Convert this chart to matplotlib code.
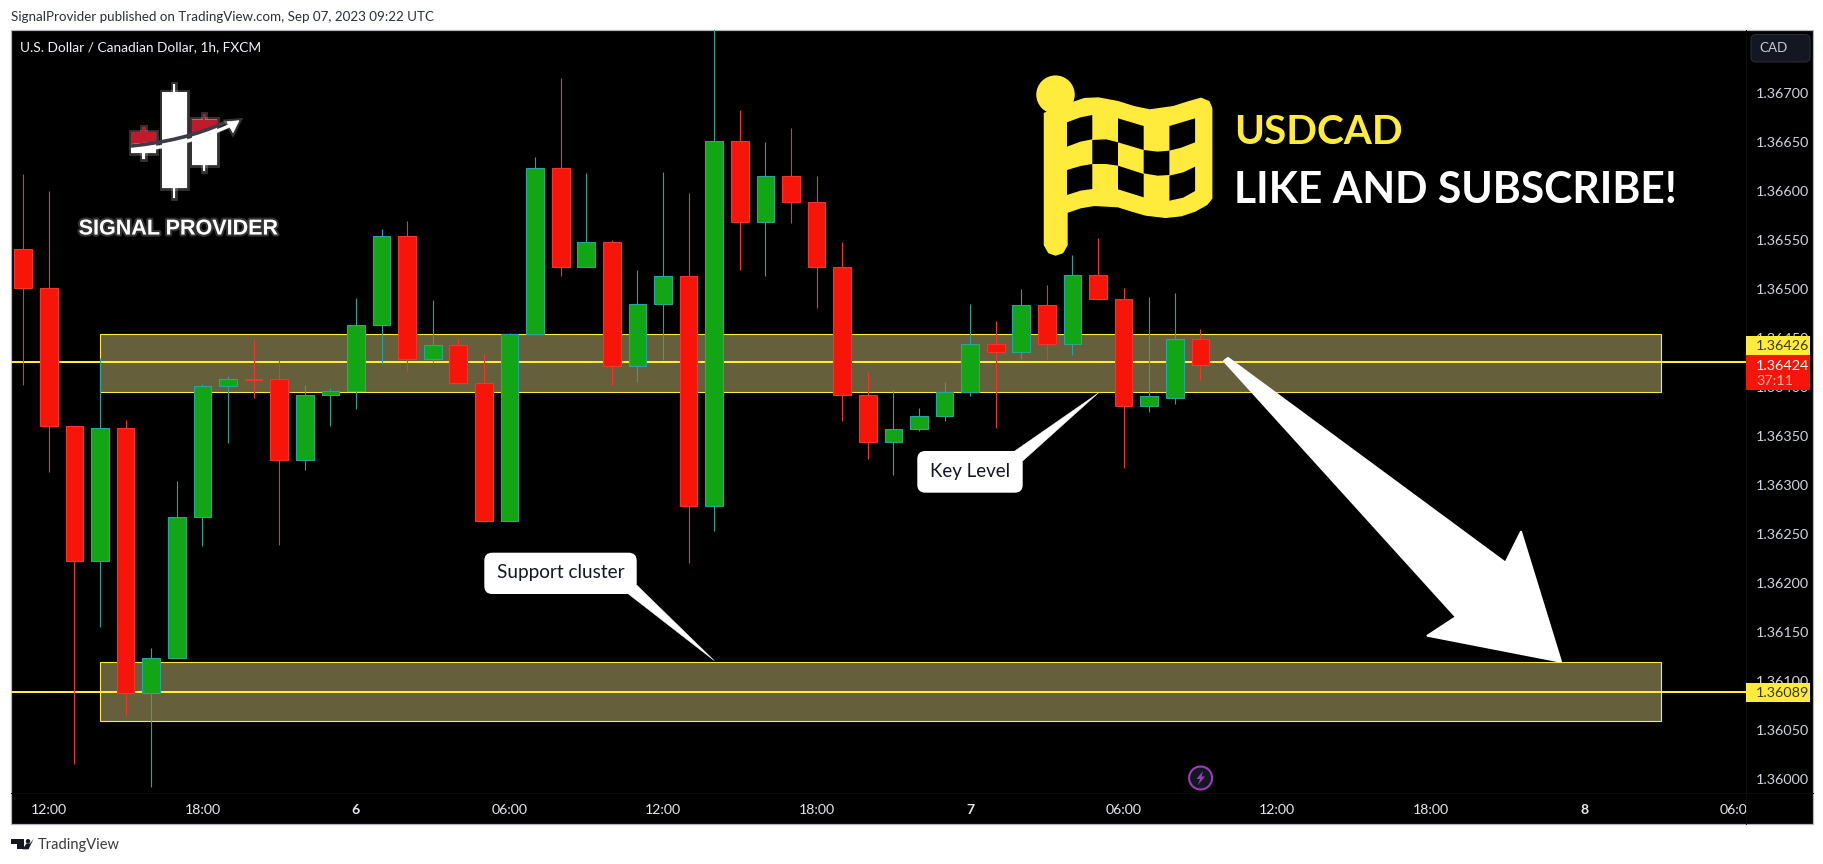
import matplotlib
matplotlib.use("Agg")
import matplotlib.pyplot as plt
import matplotlib.patheffects as pe
from matplotlib.patches import Rectangle, Polygon, FancyBboxPatch, Ellipse, PathPatch
from matplotlib.path import Path
from matplotlib.transforms import Bbox

# ---------- data (USD/CAD hourly candles) ----------
opens = [1.36541, 1.36501, 1.36360, 1.36223, 1.36358, 1.36088, 1.36124, 1.36268, 1.36401, 1.36408,
         1.36408, 1.36326, 1.36392, 1.36396, 1.36463, 1.36554, 1.36429, 1.36443, 1.36404, 1.36263,
         1.36454, 1.36624, 1.36523, 1.36548, 1.36422, 1.36485, 1.36513, 1.36279, 1.36651, 1.36569,
         1.36616, 1.36589, 1.36523, 1.36392, 1.36344, 1.36357, 1.36371, 1.36395, 1.36444, 1.36436,
         1.36484, 1.36444, 1.36515, 1.36490, 1.36381, 1.36389, 1.36449]
highs = [1.36618, 1.36600, 1.36360, 1.36430, 1.36367, 1.36134, 1.36304, 1.36403, 1.36411, 1.36448,
         1.36428, 1.36402, 1.36399, 1.36491, 1.36561, 1.36570, 1.36489, 1.36450, 1.36434, 1.36455,
         1.36635, 1.36716, 1.36619, 1.36550, 1.36520, 1.36620, 1.36598, 1.36800, 1.36683, 1.36650,
         1.36664, 1.36616, 1.36548, 1.36416, 1.36397, 1.36379, 1.36405, 1.36485, 1.36468, 1.36500,
         1.36504, 1.36535, 1.36552, 1.36501, 1.36492, 1.36496, 1.36459]
lows = [1.36402, 1.36313, 1.36015, 1.36155, 1.36066, 1.35992, 1.36124, 1.36238, 1.36343, 1.36389,
        1.36239, 1.36316, 1.36360, 1.36378, 1.36424, 1.36417, 1.36426, 1.36404, 1.36263, 1.36263,
        1.36454, 1.36513, 1.36523, 1.36402, 1.36405, 1.36428, 1.36221, 1.36253, 1.36520, 1.36513,
        1.36568, 1.36481, 1.36366, 1.36327, 1.36310, 1.36355, 1.36365, 1.36391, 1.36358, 1.36429,
        1.36428, 1.36433, 1.36490, 1.36318, 1.36375, 1.36383, 1.36407]
closes = [1.36501, 1.36360, 1.36223, 1.36358, 1.36088, 1.36124, 1.36268, 1.36401, 1.36408, 1.36407,
          1.36326, 1.36392, 1.36396, 1.36463, 1.36554, 1.36429, 1.36443, 1.36404, 1.36263, 1.36454,
          1.36624, 1.36523, 1.36548, 1.36422, 1.36485, 1.36513, 1.36279, 1.36651, 1.36569, 1.36616,
          1.36589, 1.36523, 1.36392, 1.36344, 1.36357, 1.36371, 1.36395, 1.36444, 1.36436, 1.36484,
          1.36444, 1.36515, 1.36490, 1.36381, 1.36391, 1.36449, 1.36423]

price_ticks = [1.36000, 1.36050, 1.36100, 1.36150, 1.36200, 1.36250, 1.36300, 1.36350,
               1.36400, 1.36450, 1.36500, 1.36550, 1.36600, 1.36650, 1.36700]
time_positions = [1, 7, 13, 19, 25, 31, 37, 43, 49, 55, 61, 67]
time_labels = ["12:00", "18:00", "6", "06:00", "12:00", "18:00", "7", "06:00", "12:00", "18:00", "8", "06:00"]
day_labels = {"6", "7", "8"}

zone_upper = (1.36395, 1.36454)
zone_lower = (1.36059, 1.36120)
zone_span = (3, 64)
level_upper = 1.36426
level_lower = 1.36089
last_price = 1.36424

# ---------- styles ----------
W, H = 1824, 864
RED, RED_EDGE = "#f7150a", "#f2362b"
GREEN, TEAL = "#12a617", "#26a69a"
YELLOW = "#ffeb3b"
ZONE = "#655f3c"
FONT = "Lato"
plt.rcParams["font.family"] = [FONT, "DejaVu Sans"]
PX = 72 / 100

fig = plt.figure(figsize=(W / 100, H / 100), dpi=100, facecolor="white")

def rect_axes(l, t, r, b, z):
    a = fig.add_axes([l / W, 1 - b / H, (r - l) / W, (b - t) / H], zorder=z)
    return a

# background pane
bg = rect_axes(0, 0, W, H, 0)
bg.set_xlim(0, W); bg.set_ylim(H, 0); bg.axis("off")
bg.add_patch(Rectangle((11, 30), 1802, 794, fc="black", ec="#b2b5be", lw=1.2 * PX))
bg.plot([1746, 1746], [30, 824], color="#0c0c0c", lw=PX)
bg.plot([11, 1813], [793, 793], color="#0c0c0c", lw=PX)

# main chart
ax = rect_axes(11, 30, 1746, 793, 1)
ax.set_facecolor("none")
for s in ax.spines.values():
    s.set_visible(False)
ax.set_xlim(-0.4807, 67.32)
ax.set_ylim(1.359859, 1.367645)

for lo, hi in (zone_upper, zone_lower):
    ax.add_patch(Rectangle((zone_span[0], lo), zone_span[1] - zone_span[0], hi - lo,
                           fc=ZONE, ec=YELLOW, lw=1.1 * PX, zorder=1))
for lv in (level_upper, level_lower):
    ax.axhline(lv, color=YELLOW, lw=2 * PX, zorder=2)

for i, (o, h, l, c) in enumerate(zip(opens, highs, lows, closes)):
    up = c >= o
    ax.vlines(i, l, h, color=TEAL if up else RED_EDGE, lw=1.1 * PX, zorder=3)
    ax.bar(i, abs(c - o), bottom=min(o, c), width=0.69,
           color=GREEN if up else RED, edgecolor=TEAL if up else RED_EDGE,
           linewidth=1.1 * PX, zorder=4)

ax.yaxis.tick_right()
ax.set_yticks(price_ticks)
ax.set_yticklabels([f"{p:.5f}" for p in price_ticks])
ax.set_xticks(time_positions)
ax.set_xticklabels(time_labels)
ax.tick_params(axis="y", length=0, pad=6.8, labelsize=10.4, labelcolor="#d1d4dc")
ax.tick_params(axis="x", length=0, pad=8.2, labelsize=10.2, labelcolor="#e6e8ee")
for lab, txt in zip(ax.get_xticklabels(), time_labels):
    if txt in day_labels:
        lab.set_fontweight("bold")
last = ax.get_xticklabels()[-1]
last.set_clip_on(True)
last.set_clip_box(Bbox([[0, 0], [1746, H]]))

# overlay in reference pixels
ov = rect_axes(0, 0, W, H, 2)
ov.set_xlim(0, W); ov.set_ylim(H, 0); ov.axis("off")
ov.patch.set_alpha(0)

def T(x, y, s, **kw):
    kw.setdefault("va", "center")
    return ov.text(x, y, s, **kw)

# header / footer / title
T(11, 17.3, "SignalProvider published on TradingView.com, Sep 07, 2023 09:22 UTC", fontsize=9.68, color="#2a2e39")
T(19.8, 47.3, "U.S. Dollar / Canadian Dollar, 1h, FXCM", fontsize=9.86, color="#f0f3fa")
T(38, 845, "TradingView", fontsize=10.5, color="#3a3a3a")
ov.add_patch(Polygon([(11, 839), (24, 839), (24, 849.3), (17, 849.3), (17, 844), (11, 844)], fc="#131722"))
ov.add_patch(Ellipse((28, 841.3), 4.4, 4.6, fc="#131722"))
ov.add_patch(Polygon([(33.6, 839), (28.5, 849.3), (22.5, 849.3), (26.5, 843.5), (30, 843.5)], fc="#131722"))

# CAD button
ov.add_patch(FancyBboxPatch((1751, 34.5), 59, 27.5, boxstyle="round,pad=0,rounding_size=5",
                            fc="#131722", ec="#2a2e39", lw=PX))
T(1773.5, 48.3, "CAD", fontsize=9.6, color="#c8cbd4", ha="center")

# price tags
ov.add_patch(Rectangle((1746, 336), 64, 19, fc=YELLOW, ec="none"))
ov.add_patch(Rectangle((1746, 355), 64, 35, fc=RED, ec="none"))
ov.add_patch(Rectangle((1746, 683), 64, 19, fc=YELLOW, ec="none"))
T(1756, 346, f"{level_upper:.5f}", fontsize=10.4, color="#3a3a1a")
T(1756, 365.7, f"{last_price:.5f}", fontsize=10.4, color="white")
T(1756, 381, "37:11", fontsize=10.4, color="#ffb3ac")
T(1756, 693, f"{level_lower:.5f}", fontsize=10.4, color="#3a3a1a")

# callouts
def bubble(l, t, r, b, tail, text, fs):
    ov.add_patch(Polygon(tail, fc="white", ec="white", lw=0.3))
    ov.add_patch(FancyBboxPatch((l, t), r - l, b - t, boxstyle="round,pad=0,rounding_size=8",
                                fc="white", ec="none"))
    T((l + r) / 2, (t + b) / 2 - 0.5, text, fontsize=fs, color="#131722", ha="center")

bubble(484.3, 552.7, 636.7, 594, [(627.7, 593.5), (714.3, 660.7), (636.7, 585)], "Support cluster", 13.7)
bubble(917.3, 451, 1022.7, 492.7, [(1014, 451.5), (1098.3, 393), (1022.7, 461)], "Key Level", 13.5)

# big white arrow
ov.add_patch(Polygon([(1224, 361), (1456, 617), (1427.5, 635.7), (1561, 661.7), (1521, 531.7),
                      (1505.5, 562.7), (1228, 358)],
                     fc="white", ec="white", lw=1.5, joinstyle="round"))

# event icon
ov.add_patch(Ellipse((1200.6, 778), 23, 23, fc="#131722", ec="#9c3fb5", lw=1.5))
ov.add_patch(Polygon([(1203, 771), (1196.5, 779), (1200, 779), (1198, 785), (1205, 776.5), (1201.5, 776.5)],
                     fc="#9c3fb5", ec="none"))

# flag
def z3(x, y):
    return (600 + x / 2.529, y / 3)

flag = [(1124, 340), (1124, 735), (1135, 758), (1152, 765), (1170, 758), (1181, 735), (1181, 637), (1215, 623),
        (1250, 616), (1310, 620), (1345, 633), (1380, 645), (1430, 652), (1470, 647), (1505, 633), (1535, 613),
        (1547, 595), (1547, 325), (1540, 305), (1520, 295), (1490, 305), (1450, 320), (1390, 330), (1350, 320),
        (1310, 305), (1260, 294), (1225, 296), (1190, 310)]
ov.add_patch(Polygon([z3(*p) for p in flag], fc=YELLOW, ec=YELLOW, lw=1, joinstyle="round"))
ov.add_patch(Ellipse(z3(1152, 284), 38.5, 38.5, fc=YELLOW, ec="none"))
holes = [[(1181, 367), (1215, 352), (1245, 345), (1245, 418), (1215, 425), (1181, 440)],
         [(1310, 355), (1375, 378), (1375, 450), (1310, 427)],
         [(1440, 378), (1505, 355), (1505, 427), (1470, 443), (1440, 452)],
         [(1245, 420), (1280, 418), (1310, 427), (1310, 497), (1280, 492), (1245, 492)],
         [(1375, 450), (1410, 455), (1440, 452), (1440, 525), (1410, 527), (1375, 520)],
         [(1181, 510), (1215, 498), (1245, 492), (1245, 567), (1215, 572), (1181, 585)],
         [(1310, 497), (1375, 522), (1375, 592), (1310, 568)],
         [(1440, 527), (1475, 517), (1505, 500), (1505, 573), (1475, 593), (1440, 602)]]
for h in holes:
    ov.add_patch(Polygon([z3(*p) for p in h], fc="black", ec="none"))

T(1234, 132.5, "USDCAD", fontsize=29.2, fontweight="bold", color=YELLOW)
T(1234, 190, "LIKE AND SUBSCRIBE!", fontsize=30.7, fontweight="bold", color="white")

# signal provider logo
glow = [pe.withStroke(linewidth=3.5, foreground="white", alpha=0.2)]
def lrect(l, t, r, b, c="white", g=True):
    p = Rectangle((l, t), r - l, b - t, fc=c, ec="none")
    ov.add_patch(p)
    if g:
        p.set_path_effects(glow)

lrect(172.7, 84, 175.3, 198.3)
lrect(161.7, 92.3, 187, 188.3)
lrect(202.7, 114, 205.3, 170.7)
lrect(192, 119.3, 217, 164.7)
lrect(142, 127.3, 144.6, 159)
lrect(131, 131.7, 156.3, 152.7)
ov.add_patch(Polygon([(131, 131.7), (156.3, 131.7), (156.3, 141.7), (131, 144)], fc="#c01a2c"))
ov.add_patch(Rectangle((142, 127.3), 2.6, 4.5, fc="#c01a2c"))
ov.add_patch(Polygon([(192, 119.3), (217, 119.3), (217, 126.7), (205, 130.5), (192, 135)], fc="#c01a2c"))
ov.add_patch(Rectangle((202.7, 114), 2.6, 5.5, fc="#c01a2c"))
crv = Path([(131, 146), (165, 142.5), (195, 136), (226, 122)], [Path.MOVETO, Path.CURVE4, Path.CURVE4, Path.CURVE4])
ov.add_patch(PathPatch(crv, fc="none", ec="#3a3d45", lw=2.6))
crv2 = Path([(131, 150.3), (165, 148), (200, 140), (233, 124)], [Path.MOVETO, Path.CURVE4, Path.CURVE4, Path.CURVE4])
arrow = PathPatch(crv2, fc="none", ec="white", lw=2.4)
arrow.set_path_effects(glow)
ov.add_patch(arrow)
head = Polygon([(239, 120.7), (226.7, 121.7), (233, 132.7)], fc="white", ec="white", lw=0.5)
head.set_path_effects(glow)
ov.add_patch(head)
T(177.8, 229, "SIGNAL PROVIDER", fontsize=15.5, fontweight="bold", family="Liberation Sans", color="white", ha="center",
  path_effects=[pe.withStroke(linewidth=3, foreground="white", alpha=0.2)])

fig.savefig("out.png", dpi=100, facecolor="white")
